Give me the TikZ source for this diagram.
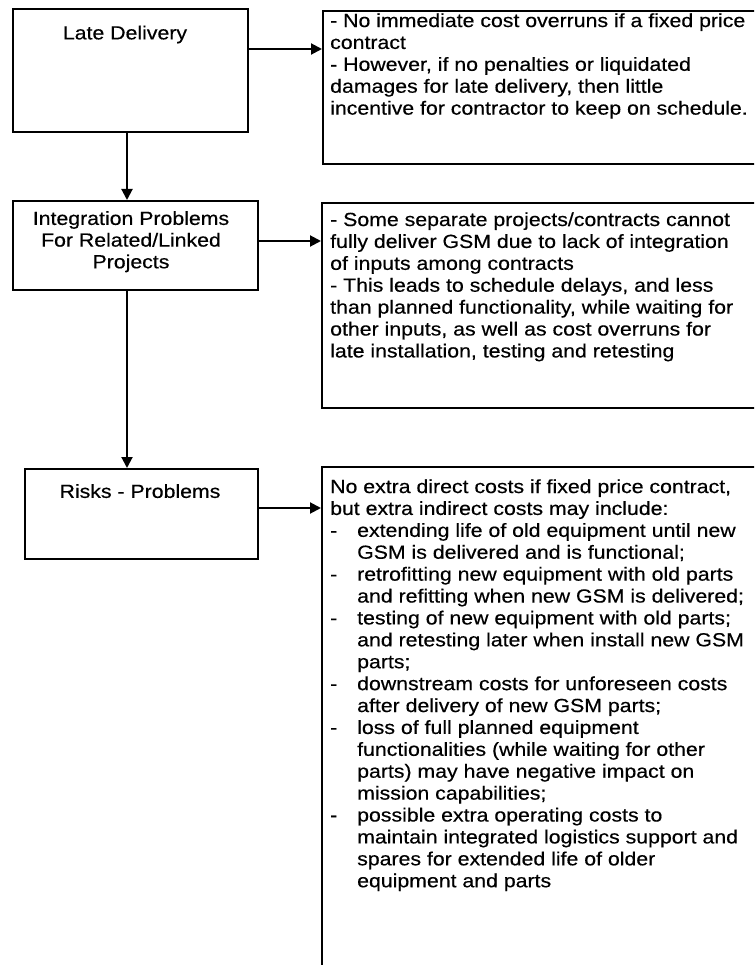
\documentclass[tikz,border=0pt]{standalone}
\usepackage{fontspec}
\setmainfont{Liberation Sans}[FakeStretch=1.12,FakeBold=0.4]
\usetikzlibrary{arrows.meta}
\begin{document}
\begin{tikzpicture}[x=1pt,y=-1pt,
  box/.style={draw, line width=2pt, rectangle, anchor=north west, inner sep=0pt},
  arr/.style={line width=2pt, -{Triangle[length=11pt,width=11pt]}},
  lbl/.style={inner sep=0pt, align=center, font=\fontsize{19}{21.7}\selectfont},
  txt/.style={anchor=north west, inner sep=0pt, align=left, font=\fontsize{19}{21.9}\selectfont}]
\useasboundingbox (0,0) rectangle (754,965);
\fill[white] (0,0) rectangle (754,965);
\clip (0,0) rectangle (754,965);
% left boxes
\node[box, minimum width=235pt, minimum height=123pt] (b1) at (12,8) {};
\node[box, minimum width=245pt, minimum height=89pt] (b2) at (12,200) {};
\node[box, minimum width=233pt, minimum height=90pt] (b3) at (24,468) {};
% right boxes
\node[box, minimum width=460pt, minimum height=153pt] (r1) at (322,10) {};
\node[box, minimum width=460pt, minimum height=205pt] (r2) at (321,202) {};
\node[box, minimum width=460pt, minimum height=520pt] (r3) at (321,466) {};
% left labels
\node[lbl, anchor=north] (t1) at (125,24) {\strut Late Delivery};
\node[lbl, anchor=north] (t2) at (131,209.5) {\strut Integration Problems\\For Related/Linked\\Projects};
\node[lbl, anchor=north] (t3) at (140,482.5) {\strut Risks - Problems};
% right texts
\node[txt] (s1) at (330,11.5) {\strut - No immediate cost overruns if a fixed price\\
contract\\
- However, if no penalties or liquidated\\
damages for late delivery, then little\\
incentive for contractor to keep on schedule.};
\node[txt] (s2) at (330,210.5) {\strut - Some separate projects/contracts cannot\\
fully deliver GSM due to lack of integration\\
of inputs among contracts\\
- This leads to schedule delays, and less\\
than planned functionality, while waiting for\\
other inputs, as well as cost overruns for\\
late installation, testing and retesting};
\newcommand{\dsh}{\makebox[27pt][l]{-}}
\newcommand{\ind}{\hspace*{27pt}}
\node[txt] (s3) at (330,477.5) {\strut No extra direct costs if fixed price contract,\\
but extra indirect costs may include:\\
\dsh extending life of old equipment until new\\
\ind GSM is delivered and is functional;\\
\dsh retrofitting new equipment with old parts\\
\ind and refitting when new GSM is delivered;\\
\dsh testing of new equipment with old parts;\\
\ind and retesting later when install new GSM\\
\ind parts;\\
\dsh downstream costs for unforeseen costs\\
\ind after delivery of new GSM parts;\\
\dsh loss of full planned equipment\\
\ind functionalities (while waiting for other\\
\ind parts) may have negative impact on\\
\ind mission capabilities;\\
\dsh possible extra operating costs to\\
\ind maintain integrated logistics support and\\
\ind spares for extended life of older\\
\ind equipment and parts};
% connectors
\coordinate (a1) at (0,49);
\coordinate (a2) at (0,241);
\coordinate (a3) at (0,508);
\coordinate (v) at (127,0);
\draw[arr] (b1.east |- a1) -- (r1.west |- a1);
\draw[arr] (b2.east |- a2) -- (r2.west |- a2);
\draw[arr] (b3.east |- a3) -- (r3.west |- a3);
\draw[arr] (v |- b1.south) -- (v |- b2.north);
\draw[arr] (v |- b2.south) -- (v |- b3.north);
\end{tikzpicture}
\end{document}
